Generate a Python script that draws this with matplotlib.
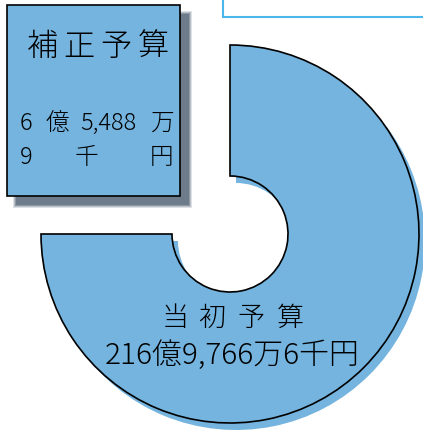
import matplotlib
matplotlib.use("Agg")
import matplotlib.pyplot as plt
from matplotlib.patches import Wedge, Rectangle

plt.rcParams['font.family'] = ['Noto Sans CJK JP', 'DejaVu Sans']
plt.rcParams['font.weight'] = 'light'

# budget labels
main_title = ["当", "初", "予", "算"]
main_amount = "216億9,766万6千円"
supp_title = ["補", "正", "予", "算"]
supp_line1 = ["6", "億", "5,488", "万"]
supp_line2 = ["9", "千", "円"]

blue = "#74b4df"

fig = plt.figure(figsize=(4.23, 4.34), dpi=100)
ax = fig.add_axes([0, 0, 1, 1])
ax.set_xlim(0, 423)
ax.set_ylim(434, 0)
ax.set_aspect("equal")
ax.axis("off")

# empty frame top right
ax.add_patch(Rectangle((223, -5), 220, 22, facecolor="white", edgecolor="#4ab6ea", lw=1.5))

# ring (3/4) with a flat shadow
cx, cy, r_out, r_in = 230, 234, 189, 58
ax.add_patch(Wedge((cx + 6, cy + 7), r_out, -90, 180, width=r_out - r_in,
                   facecolor=blue, edgecolor="none", zorder=1))
ax.add_patch(Wedge((cx, cy), r_out, -90, 180, width=r_out - r_in,
                   facecolor=blue, edgecolor="black", lw=1.2, zorder=2))

for ch, x in zip(main_title, [175, 212, 251, 290]):
    ax.text(x, 318, ch, fontsize=19.5, ha="center", va="center", zorder=3)
ax.text(232, 356, main_amount, fontsize=21.5, ha="center", va="center", zorder=3)

# box with blurred shadow
bx, by, bw, bh = 7, 5, 173, 191
for i, a in enumerate([0.2, 0.3, 0.45, 0.7]):
    g = 3 - i
    ax.add_patch(Rectangle((bx + 9 - g, by + 9 - g), bw + 2 * g, bh + 2 * g,
                           facecolor="#5f6f80", edgecolor="none", alpha=a, zorder=4))
ax.add_patch(Rectangle((bx, by), bw, bh, facecolor=blue, edgecolor="black", lw=1.2, zorder=5))

for ch, x in zip(supp_title, [43, 79, 116, 153]):
    ax.text(x, 47, ch, fontsize=22.5, ha="center", va="center", zorder=6)
for s, x in zip(supp_line1, [26, 57, 108, 163]):
    ax.text(x, 123, s, fontsize=17, ha="center", va="center", zorder=6)
for s, x in zip(supp_line2, [26, 86, 162]):
    ax.text(x, 157, s, fontsize=17, ha="center", va="center", zorder=6)

fig.savefig("out.png", dpi=100)
